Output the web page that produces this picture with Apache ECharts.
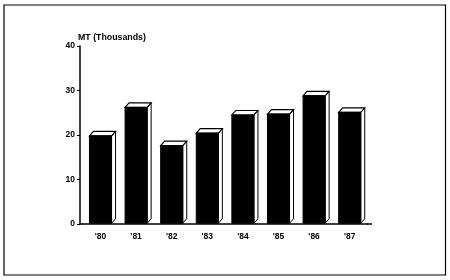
<!DOCTYPE html>
<html><head><meta charset="utf-8">
<script src="https://cdn.jsdelivr.net/npm/echarts@6/dist/echarts.min.js"></script>
<style>html,body{margin:0;padding:0;background:#fff}#c{width:450px;height:280px}</style>
</head><body><div id="c"></div>
<script>
var categories = ["'80", "'81", "'82", "'83", "'84", "'85", "'86", "'87"];
var values = [19.8, 26.2, 17.6, 20.4, 24.5, 24.7, 28.8, 25.1];
var yTicks = [0, 10, 20, 30, 40];
var axisName = 'MT (Thousands)';

var chart = echarts.init(document.getElementById('c'));
var font = 'Liberation Sans';
chart.setOption({
  animation: false,
  backgroundColor: '#fff',
  grid: { left: 82.7, right: 82.5, top: 46, bottom: 56 },
  xAxis: {
    type: 'category', data: categories,
    axisLine: { show: true, lineStyle: { color: '#000', width: 1.5 } },
    axisTick: { show: false },
    axisLabel: { color: '#000', fontFamily: font, fontWeight: 'bold', fontSize: 8.5, margin: 8 }
  },
  yAxis: {
    type: 'value', min: yTicks[0], max: yTicks[yTicks.length - 1], interval: 10,
    offset: 2.7,
    name: axisName, nameLocation: 'end', nameGap: 4,
    nameTextStyle: { color: '#000', fontFamily: font, fontWeight: 'bold', fontSize: 8.8, align: 'left', padding: [0, 0, 0, -2] },
    axisLine: { show: true, lineStyle: { color: '#000', width: 1.5 } },
    axisTick: { show: true, length: 3, lineStyle: { color: '#000' } },
    axisLabel: { color: '#000', fontFamily: font, fontWeight: 'bold', fontSize: 8.5, margin: 5 },
    splitLine: { show: false }
  },
  graphic: [
    { type: 'rect', shape: { x: 4, y: 5, width: 441.5, height: 270 }, style: { fill: 'none', stroke: '#000', lineWidth: 1.2 }, silent: true },
    { type: 'line', shape: { x1: 367, y1: 224, x2: 372, y2: 224 }, style: { stroke: '#000', lineWidth: 1.5 }, silent: true },
    { type: 'line', shape: { x1: 80, y1: 224, x2: 83, y2: 224 }, style: { stroke: '#000', lineWidth: 1.5 }, silent: true }
  ],
  series: [{
    type: 'custom',
    data: values.map(function (v, i) { return [i, v]; }),
    encode: { x: 0, y: 1 },
    renderItem: function (params, api) {
      var i = api.value(0), v = api.value(1);
      var top = api.coord([i, v]);
      var base = api.coord([i, 0]);
      var cw = api.size([1, 0])[0];
      var w = cw * 0.62, dx = 4, dy = 4.5;
      var x0 = top[0] - w / 2;
      var ty = top[1], by = base[1] - 0.75;
      return {
        type: 'group',
        children: [
          { type: 'polygon', shape: { points: [[x0 + w, ty], [x0 + w + dx, ty - dy], [x0 + w + dx, by - dy], [x0 + w, by]] },
            style: { fill: '#fff', stroke: '#000', lineWidth: 1 } },
          { type: 'polygon', shape: { points: [[x0, ty], [x0 + dx, ty - dy], [x0 + w + dx, ty - dy], [x0 + w, ty]] },
            style: { fill: '#fff', stroke: '#000', lineWidth: 1.2 } },
          { type: 'rect', shape: { x: x0, y: ty, width: w, height: by - ty },
            style: { fill: '#000', stroke: '#000', lineWidth: 1 } }
        ]
      };
    }
  }]
});
</script></body></html>
